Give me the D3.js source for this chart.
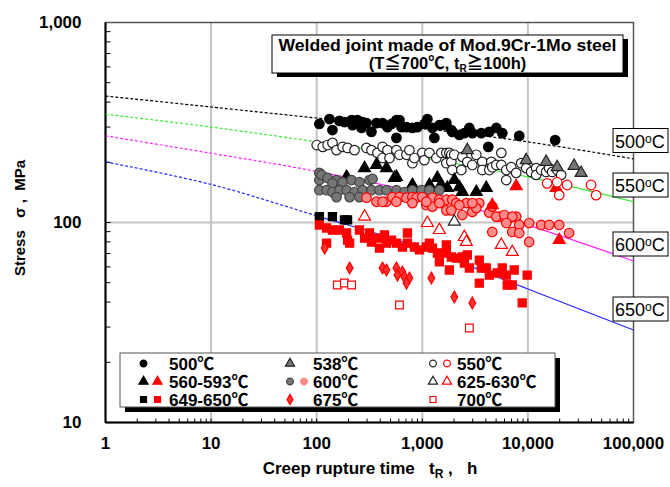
<!DOCTYPE html>
<html>
<head>
<meta charset="utf-8">
<script src="https://cdn.jsdelivr.net/npm/d3@7"></script>
<style>
body { margin: 0; background: #fff; }
text { font-family: "Liberation Sans", Arial, "Noto Sans CJK JP", sans-serif; }
</style>
</head>
<body>
<div id="chart"></div>
<script>
// Data, each point is [rupture time (h), stress (MPa)]

var s500 = [[106,311],[132,329],[141,290],[164,322],[183,318],[214,325],[218,307],[243,325],[266,297],[272,318],
  [296,314],[330,284],[368,314],[420,314],[468,300],[511,311],[569,325],[569,265],[608,325],[635,300],[708,300],
  [806,297],[899,300],[1046,311],[1117,329],[1246,297],[1301,265],[1451,307],[1619,307],[1690,314],[1883,290],
  [1924,284],[2243,274],[2501,280],[2790,297],[2977,280],[3620,280],[4217,239],[4310,284],[5021,297],[5720,280],
  [8280,271],[18120,258]];

var s538 = [[2670,230],[9630,205],[14890,201],[18930,189],[27400,192],[31900,177]];

var s550 = [[100,244],[114,239],[127,244],[141,250],[154,230],[176,239],[196,236],[228,230],[296,236],[330,230],
  [376,223],[420,239],[420,210],[468,230],[489,210],[569,230],[608,218],[708,218],[755,230],[806,198],[842,210],
  [1000,223],[1046,205],[1167,223],[1359,210],[1516,223],[1690,223],[1690,198],[1803,223],[1883,218],[1883,201],
  [1924,183],[2010,218],[2343,183],[2394,213],[2670,201],[2977,194],[3246,218],[3699,201],[3699,183],[4310,183],
  [4503,201],[4601,189],[5021,194],[5600,223],[5600,194],[6240,183],[6240,163],[6950,189],[7750,177],[8640,198],
  [9630,187],[10740,179],[11980,187],[11980,173],[13360,183],[14890,179],[15890,187],[16980,179],[18930,183],[20650,173]];

var s550red = [[15210,157],[18930,159],[19780,137],[23540,154],[39650,154],[44250,137]];

var s560 = [[176,154],[192,169],[284,187],[368,194],[458,187],[545,167],[569,169],[789,149],[806,154],[1167,154],
  [1389,167],[1451,150],[1549,150],[1726,149],[2010,163],[2243,150],[2394,142],[3246,142],[4036,149]];

var s560red = [[7750,152],[18530,149],[4601,122],[19780,81.7]];

var s600 = [[106,177],[106,163],[111,173],[127,167],[154,163],[176,159],[214,163],[254,159],[316,163],[338,165],
  [141,157],[106,145],[124,145],[141,142],[164,145],[192,145],[228,142],[272,145],[330,145],[393,145],[458,145],
  [569,145],[678,142],[806,145],[980,145],[1167,145],[1451,145],[154,134],[205,134],[254,134]];

var s600red = [[296,133],[368,127],[458,127],[521,134],[608,134],[708,133],[806,134],[880,133],[1000,134],[1246,133],
  [1451,130],[1690,130],[1924,130],[2100,125],[2613,125],[3464,125],[1093,122],[1246,120],[1690,115],[2394,109],
  [2977,113],[3246,118],[4310,112],[5360,107],[6655,105],[7750,107],[420,127],[569,127],[806,125],[1093,127],
  [1451,125],[2243,122],[2977,125],[4601,120],[5021,107],[5970,109],[7110,107],[4601,89.7],[6240,99.4],[7110,89.7],
  [8280,97.2],[10280,99.4],[10280,79.9],[13360,97.2],[15890,97.2],[19780,97.2],[24560,88.6],[8280,88.6],[1883,115]];

var s625 = [[2010,101]];

var s625red = [[284,107],[1117,99.4],[1451,91.7],[2501,84.6],[2613,79.9],[5600,77.2],[7110,71.2]];

var s650 = [[106,107],[141,107],[183,103],[196,103]];

var s650red = [[106,97.2],[124,93.9],[141,91.7],[164,91.7],[192,88.6],[196,81.7],[205,78.9],[254,91.7],[284,83.6],
  [316,88.6],[330,79.9],[376,83.6],[393,74.5],[438,86.6],[458,78.9],[511,81.7],[569,78.9],[649,75.4],[723,88.6],
  [723,78.9],[842,75.4],[939,72.9],[1093,75.4],[1167,78.9],[1246,74.5],[1389,70.4],[1451,63.5],[1690,77.2],
  [1690,70.4],[1803,57.9],[1883,67.2],[2100,66.4],[2394,67.2],[2501,62.7],[2670,68.8],[2790,59.2],[3464,64.9],
  [3620,59.2],[4036,59.2],[4310,54.6],[5130,55.9],[5720,59.2],[6240,54.6],[7420,57.9],[3464,49.8],[6370,48.7],
  [7110,48.7],[8830,39.6],[9840,54.6],[124,78.9]];

var s675 = [[119,74.5],[205,59.2],[420,59.2],[458,57.9],[569,59.2],[582,54.6],[649,56.5],[678,53.4],[755,52.8],
  [708,49.8],[1219,52.8],[2010,42.4],[2977,39.6]];

var s700 = [[157,48.7],[183,49.8],[214,48.7],[608,38.7],[2790,29.7]];

// Master curves read at each decade
var curve500 = [[1,429],[10,378],[100,333],[1000,295],[10000,253],[100000,208]];
var curve550 = [[1,348],[10,300],[100,253],[1000,210],[10000,169],[100000,127]];
var curve600 = [[1,271],[10,222],[100,180],[1000,139],[10000,97],[100000,64.2]];
var curve650 = [[1,201],[10,155],[100,108],[1000,74.5],[10000,46.5],[100000,29]];

var curveLabels = ["500", "550", "600", "650"];

var xTicks = [1, 10, 100, 1000, 10000, 100000];
var yTicks = [10, 100, 1000];
var xGrid = [10, 100, 1000, 10000];
var yGrid = [100];

var margin = {top: 22.5, right: 36.5, bottom: 64.5, left: 105.5};
var width = 670 - margin.left - margin.right;
var height = 487 - margin.top - margin.bottom;

var x = d3.scaleLog().domain([1, 100000]).range([0, width]);
var y = d3.scaleLog().domain([10, 1000]).range([height, 0]);

var svg = d3.select("#chart").append("svg")
    .attr("width", 670)
    .attr("height", 487);

var g = svg.append("g")
    .attr("transform", "translate(" + margin.left + "," + margin.top + ")");

var defs = svg.append("defs");
defs.append("clipPath").attr("id", "clipLeft").append("rect")
    .attr("x", 0).attr("y", 0).attr("width", x(100)).attr("height", height);
defs.append("clipPath").attr("id", "clipRight").append("rect")
    .attr("x", x(100)).attr("y", 0).attr("width", width - x(100)).attr("height", height);

// grid
g.selectAll(".vgrid").data(xGrid).enter().append("line")
    .attr("x1", function(d) { return x(d); })
    .attr("x2", function(d) { return x(d); })
    .attr("y1", 0).attr("y2", height)
    .attr("stroke", "#c4c4c4").attr("stroke-width", 2);

g.selectAll(".hgrid").data(yGrid).enter().append("line")
    .attr("x1", 0).attr("x2", width)
    .attr("y1", function(d) { return y(d); })
    .attr("y2", function(d) { return y(d); })
    .attr("stroke", "#c4c4c4").attr("stroke-width", 2);

// minor ticks, inward
g.selectAll(".xminor").data(x.ticks()).enter().append("line")
    .attr("x1", function(d) { return x(d); })
    .attr("x2", function(d) { return x(d); })
    .attr("y1", height).attr("y2", height - 4)
    .attr("stroke", "#000").attr("stroke-width", 1);

g.selectAll(".yminor").data(y.ticks()).enter().append("line")
    .attr("x1", 0).attr("x2", 5)
    .attr("y1", function(d) { return y(d); })
    .attr("y2", function(d) { return y(d); })
    .attr("stroke", "#000").attr("stroke-width", 1);

// frame
g.append("rect")
    .attr("width", width).attr("height", height)
    .attr("fill", "none").attr("stroke", "#555").attr("stroke-width", 1.5);
g.append("line").attr("x1", 0).attr("x2", 0).attr("y1", 0).attr("y2", height)
    .attr("stroke", "#000").attr("stroke-width", 2);
g.append("line").attr("x1", 0).attr("x2", width).attr("y1", height).attr("y2", height)
    .attr("stroke", "#000").attr("stroke-width", 2);

// tick labels
var fmt = d3.format(",");
g.selectAll(".xlab").data(xTicks).enter().append("text")
    .attr("x", function(d) { return x(d); })
    .attr("y", height + 26)
    .attr("text-anchor", "middle")
    .style("font-size", "17px").style("font-weight", "bold")
    .text(function(d) { return fmt(d); });

g.selectAll(".ylab").data(yTicks).enter().append("text")
    .attr("x", -24)
    .attr("y", function(d) { return y(d); })
    .attr("dy", "0.35em")
    .attr("text-anchor", "end")
    .style("font-size", "17px").style("font-weight", "bold")
    .text(function(d) { return fmt(d); });

// axis titles
var xt = svg.append("text")
    .attr("x", 370).attr("y", 474)
    .attr("text-anchor", "middle")
    .style("font-size", "17px").style("font-weight", "bold")
    .attr("xml:space", "preserve");
xt.append("tspan").text("Creep rupture time   t");
xt.append("tspan").attr("dy", 4).style("font-size", "12px").text("R");
xt.append("tspan").attr("dy", -4).text(" ,   h");

svg.append("text")
    .attr("transform", "translate(25,218) rotate(-90)")
    .attr("text-anchor", "middle")
    .style("font-size", "15px").style("font-weight", "bold")
    .attr("xml:space", "preserve")
    .text("Stress   σ ,  MPa");

// master curves
var curves = [
  {data: curve500, color: "#000", solid: false},
  {data: curve550, color: "#33ee33", solid: true},
  {data: curve600, color: "#ff22ff", solid: true},
  {data: curve650, color: "#2222ff", solid: true}
];

var line = d3.line()
    .x(function(d) { return x(d[0]); })
    .y(function(d) { return y(d[1]); })
    .curve(d3.curveCatmullRom);

curves.forEach(function(c) {
  g.append("path").datum(c.data)
    .attr("d", line)
    .attr("clip-path", "url(#clipLeft)")
    .attr("fill", "none").attr("stroke", c.color).attr("stroke-width", 1.2)
    .attr("stroke-dasharray", "3,2");
  g.append("path").datum(c.data)
    .attr("d", line)
    .attr("clip-path", "url(#clipRight)")
    .attr("fill", "none").attr("stroke", c.color).attr("stroke-width", 1.2)
    .attr("stroke-dasharray", c.solid ? null : "3,2");
});

// scatter series
var series = [
  {data: s500, type: d3.symbolCircle, size: 72, fill: "#000", stroke: "#000"},
  {data: s550, type: d3.symbolCircle, size: 72, fill: "#fff", stroke: "#222"},
  {data: s538, type: d3.symbolTriangle, size: 62, fill: "#777", stroke: "#222"},
  {data: s560, type: d3.symbolTriangle, size: 62, fill: "#000", stroke: "#000"},
  {data: s600, type: d3.symbolCircle, size: 72, fill: "#777", stroke: "#444"},
  {data: s600red, type: d3.symbolCircle, size: 72, fill: "#ff8a8a", stroke: "#f00"},
  {data: s560red, type: d3.symbolTriangle, size: 62, fill: "#f00", stroke: "#f00"},
  {data: s625, type: d3.symbolTriangle, size: 62, fill: "#fff", stroke: "#222"},
  {data: s625red, type: d3.symbolTriangle, size: 62, fill: "#fff", stroke: "#f00"},
  {data: s650, type: d3.symbolSquare, size: 66, fill: "#000", stroke: "#000"},
  {data: s650red, type: d3.symbolSquare, size: 66, fill: "#f00", stroke: "#f00"},
  {data: s675, type: d3.symbolDiamond, size: 40, fill: "#ff3030", stroke: "#f00"},
  {data: s700, type: d3.symbolSquare, size: 60, fill: "#fff", stroke: "#f00"},
  {data: s550red, type: d3.symbolCircle, size: 72, fill: "#fff", stroke: "#f00"}
];

series.forEach(function(s) {
  g.append("g").selectAll("path")
    .data(s.data)
    .enter().append("path")
    .attr("transform", function(d) { return "translate(" + x(d[0]) + "," + y(d[1]) + ")"; })
    .attr("d", d3.symbol().type(s.type).size(s.size))
    .attr("fill", s.fill)
    .attr("stroke", s.stroke)
    .attr("stroke-width", 1.2);
});

// curve temperature labels at right end
var labelY = [140.5, 185, 244, 309];
var tl = svg.selectAll(".tlab").data(curveLabels).enter().append("g")
    .attr("transform", function(d, i) { return "translate(613," + labelY[i] + ")"; });
tl.append("rect")
    .attr("x", 0).attr("y", -12).attr("width", 55).attr("height", 24)
    .attr("fill", "#fff").attr("stroke", "#000").attr("stroke-width", 1);
var tlt = tl.append("text")
    .attr("x", 2).attr("y", 7)
    .style("font-size", "18px");
tlt.append("tspan").text(function(d) { return d; });
tlt.append("tspan").attr("dy", -5).style("font-size", "12px").text("o");
tlt.append("tspan").attr("dy", 5).text("C");

// title box
svg.append("rect").attr("x", 277).attr("y", 39).attr("width", 351).attr("height", 38).attr("fill", "#000");
svg.append("rect").attr("x", 272).attr("y", 35).attr("width", 351).attr("height", 38)
    .attr("fill", "#fff").attr("stroke", "#000").attr("stroke-width", 1);
svg.append("text").attr("x", 447.5).attr("y", 51)
    .attr("text-anchor", "middle")
    .attr("textLength", 338).attr("lengthAdjust", "spacingAndGlyphs")
    .style("font-size", "16px").style("font-weight", "bold")
    .text("Welded joint made of Mod.9Cr-1Mo steel");
var t2 = svg.append("text").attr("x", 447.5).attr("y", 69)
    .attr("text-anchor", "middle")
    .style("font-size", "16.5px").style("font-weight", "bold");
t2.append("tspan").text("(T≦700℃, t");
t2.append("tspan").attr("dy", 3).style("font-size", "10px").text("R");
t2.append("tspan").attr("dy", -3).text("≧100h)");

// legend
var legendItems = [
  {label: "500℃", col: 0, row: 0, marks: [{type: d3.symbolCircle, fill: "#000", stroke: "#000"}]},
  {label: "538℃", col: 1, row: 0, marks: [{type: d3.symbolTriangle, fill: "#777", stroke: "#222"}]},
  {label: "550℃", col: 2, row: 0, marks: [{type: d3.symbolCircle, fill: "#fff", stroke: "#222"}, {type: d3.symbolCircle, fill: "#fff", stroke: "#f00"}]},
  {label: "560-593℃", col: 0, row: 1, marks: [{type: d3.symbolTriangle, fill: "#000", stroke: "#000"}, {type: d3.symbolTriangle, fill: "#f00", stroke: "#f00"}]},
  {label: "600℃", col: 1, row: 1, marks: [{type: d3.symbolCircle, fill: "#777", stroke: "#444"}, {type: d3.symbolCircle, fill: "#ff8a8a", stroke: "#ff8a8a"}]},
  {label: "625-630℃", col: 2, row: 1, marks: [{type: d3.symbolTriangle, fill: "#fff", stroke: "#222"}, {type: d3.symbolTriangle, fill: "#fff", stroke: "#f00"}]},
  {label: "649-650℃", col: 0, row: 2, marks: [{type: d3.symbolSquare, fill: "#000", stroke: "#000"}, {type: d3.symbolSquare, fill: "#f00", stroke: "#f00"}]},
  {label: "675℃", col: 1, row: 2, marks: [{type: d3.symbolDiamond, fill: "#ff3030", stroke: "#f00"}]},
  {label: "700℃", col: 2, row: 2, marks: [{type: d3.symbolSquare, fill: "#fff", stroke: "#f00"}]}
];

svg.append("rect").attr("x", 125).attr("y", 358).attr("width", 435).attr("height", 54).attr("fill", "#000");
svg.append("rect").attr("x", 120).attr("y", 353).attr("width", 435).attr("height", 54)
    .attr("fill", "#fff").attr("stroke", "#555").attr("stroke-width", 1);

var colX = [143.5, 290, 433];
var textX = [169, 313, 457];
var rowY = [363.5, 381.5, 399.5];

var li = svg.selectAll(".legItem").data(legendItems).enter().append("g");
li.each(function(d) {
  var item = d3.select(this);
  d.marks.forEach(function(m, k) {
    item.append("path")
      .attr("transform", "translate(" + (colX[d.col] + k * 14) + "," + rowY[d.row] + ")")
      .attr("d", d3.symbol().type(m.type).size(m.type === d3.symbolDiamond ? 30 : 36))
      .attr("fill", m.fill).attr("stroke", m.stroke).attr("stroke-width", 1.2);
  });
  item.append("text")
    .attr("x", textX[d.col]).attr("y", rowY[d.row])
    .attr("dy", "0.37em")
    .style("font-size", "17px").style("font-weight", "bold")
    .text(d.label);
});
</script>
</body>
</html>
